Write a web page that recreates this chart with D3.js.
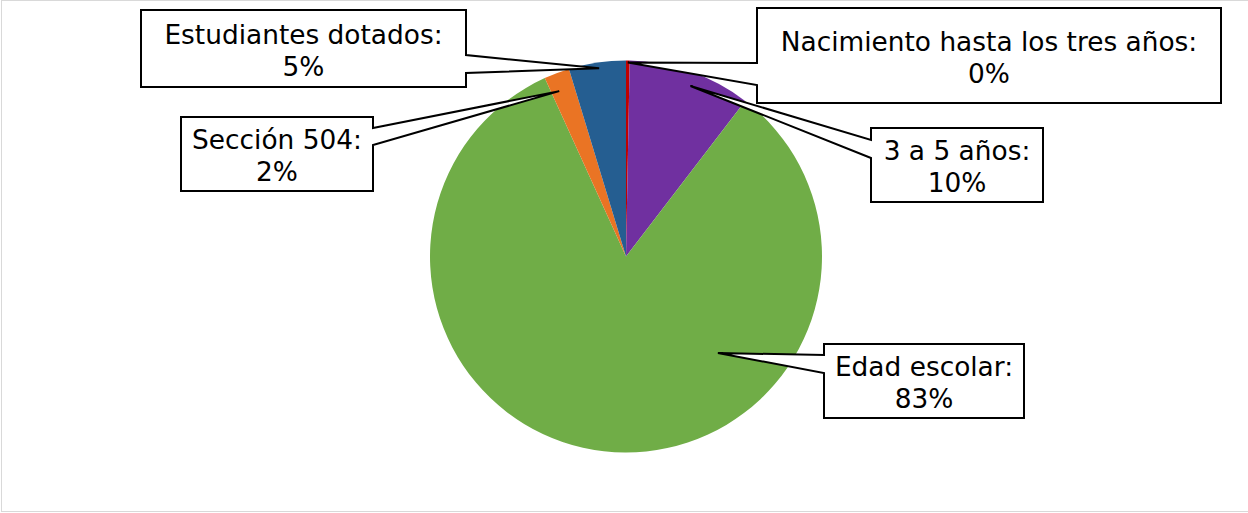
<!DOCTYPE html>
<html>
<head>
<meta charset="utf-8">
<script src="https://cdn.jsdelivr.net/npm/d3@7"></script>
<style>
  html, body { margin: 0; padding: 0; background: #fff; }
  svg { display: block; }
</style>
</head>
<body>
<svg id="chart" width="1248" height="513"></svg>
<script>
// ---- data ----
const categories = ["Nacimiento hasta los tres años", "3 a 5 años", "Edad escolar", "Sección 504", "Estudiantes dotados"];
const values = [0.3, 10.1, 82.8, 2.1, 4.7];
const colors = ["#C00000", "#7030A0", "#70AD47", "#EA7424", "#255E91"];

// ---- label callout layout (annotation positions, not data) ----
const labelBoxes = [
  { box: [757, 8, 464, 95], side: "left",  base: [63, 85],   tipR: 0.99, tipF: 0.5 },
  { box: [871, 128, 172, 74], side: "left",  base: [140, 158], tipR: 0.93, tipF: 0.54 },
  { box: [824, 344, 200, 74], side: "left",  base: [355, 373], tipR: 0.68, tipF: 0.332 },
  { box: [181, 117, 192, 74], side: "right", base: [128, 145], tipR: 0.91, tipF: 0.33 },
  { box: [141, 10, 325, 77],  side: "right", base: [55, 73],   tipR: 0.97, tipF: 0.52 }
];

const W = 1248, H = 513;
const cx = 626, cy = 256.5, R = 196;
const svg = d3.select("#chart");

// chart border (right edge falls outside the view)
svg.append("rect").attr("x", 1.5).attr("y", 0.5).attr("width", 1250).attr("height", 511)
  .attr("fill", "#fff").attr("stroke", "#D9D9D9").attr("stroke-width", 1);

const pie = d3.pie().sort(null).value(d => d);
const arcs = pie(values);
const arc = d3.arc().innerRadius(0).outerRadius(R);

const g = svg.append("g").attr("transform", `translate(${cx},${cy})`);
g.selectAll("path.slice").data(arcs).join("path")
  .attr("class", "slice")
  .attr("d", arc)
  .attr("fill", (d, i) => colors[i]);

// callouts
const fontSize = 26.4, lineH = 32;
arcs.forEach((a, i) => {
  const L = labelBoxes[i];
  const ang = a.startAngle + L.tipF * (a.endAngle - a.startAngle);
  const tx = cx + Math.sin(ang) * R * L.tipR;
  const ty = cy - Math.cos(ang) * R * L.tipR;
  const [x, y, w, h] = L.box;
  const [b0, b1] = L.base;
  let p;
  if (L.side === "right") {
    p = `M${x},${y}H${x + w}V${b0}L${tx},${ty}L${x + w},${b1}V${y + h}H${x}Z`;
  } else {
    p = `M${x},${y}H${x + w}V${y + h}H${x}V${b1}L${tx},${ty}L${x},${b0}Z`;
  }
  svg.append("path").attr("d", p).attr("fill", "#fff")
    .attr("stroke", "#000").attr("stroke-width", 2).attr("stroke-linejoin", "miter");

  const t = svg.append("text")
    .attr("text-anchor", "middle")
    .attr("font-family", "Verdana, 'DejaVu Sans', sans-serif")
    .attr("font-size", fontSize)
    .attr("fill", "#000");
  const midX = x + w / 2, midY = y + h / 2;
  const base1 = midY - lineH / 2 + fontSize * 0.36 + 1.5;
  t.append("tspan").attr("x", midX).attr("y", base1).text(categories[i] + ":");
  t.append("tspan").attr("x", midX).attr("y", base1 + lineH).text(Math.round(values[i]) + "%");
});
</script>
</body>
</html>
